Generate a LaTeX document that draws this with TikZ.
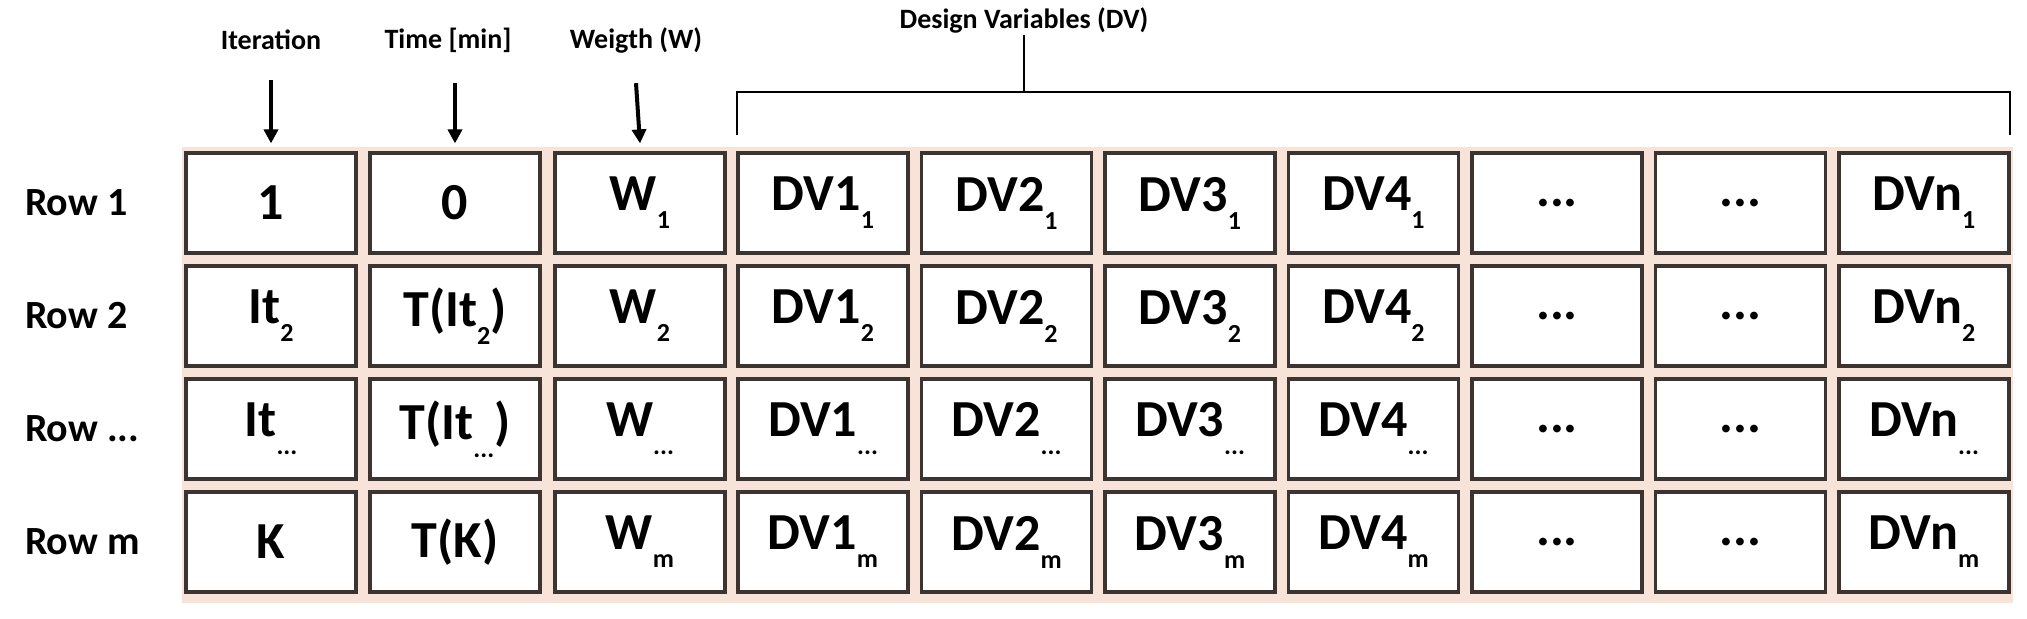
\documentclass[tikz,border=0pt]{standalone}
\usepackage{fontspec}
\setmainfont{Carlito}
\usetikzlibrary{arrows.meta}
\definecolor{peach}{HTML}{F7E3D8}
\definecolor{bord}{HTML}{3B3430}
\newcommand{\mysub}[1]{{\fontsize{13}{13}\selectfont\raisebox{-9pt}{#1}}}
\newcommand{\mydots}{...}
\begin{document}
\begin{tikzpicture}[x=0.5pt,y=-0.5pt,
  cell/.style={draw=bord,line width=1.6pt,fill=white,minimum width=85pt,minimum height=50pt,inner sep=0pt,font=\fontsize{26}{26}\selectfont\bfseries},
  rowlab/.style={anchor=west,font=\fontsize{20}{20}\selectfont\bfseries},
  head/.style={font=\fontsize{14}{14}\selectfont\bfseries,inner sep=1pt},
  arr/.style={line width=2pt,-{Triangle[length=7pt,width=7pt]}}]
\useasboundingbox (0,0) rectangle (2027,618);
\fill[peach] (182,147) rectangle (2013,603);
% rows
\foreach \r/\y in {1/203,2/316,3/429,4/542}{
  \foreach \c/\x in {1/271,2/455,3/640,4/823,5/1006.5,6/1190,7/1373.5,8/1557,9/1740.5,10/1924}{
    \node[cell] (r\r c\c) at (\x,\y) {};
  }
}
\foreach \r/\t in {1/Row 1,2/Row 2,3/Row \mydots,4/Row m}{\node[rowlab] (lab\r) at (18,0 |- r\r c1) {\t};}
% contents
\foreach \r/\s/\a/\b in {1/1/1/0,2/2/It\mysub{2}/T(It\mysub{2}),3/\mydots/It\mysub{\mydots}/T(It\mysub{\mydots}),4/m/K/T(K)}{
  \node[cell,draw=none,fill=none] at (r\r c1) {\a};
  \node[cell,draw=none,fill=none] at (r\r c2) {\b};
  \node[cell,draw=none,fill=none] at (r\r c3) {W\mysub{\s}};
  \node[cell,draw=none,fill=none] at (r\r c4) {DV1\mysub{\s}};
  \node[cell,draw=none,fill=none] at (r\r c5) {DV2\mysub{\s}};
  \node[cell,draw=none,fill=none] at (r\r c6) {DV3\mysub{\s}};
  \node[cell,draw=none,fill=none] at (r\r c7) {DV4\mysub{\s}};
  \node[cell,draw=none,fill=none] at (r\r c8) {\mydots};
  \node[cell,draw=none,fill=none] at (r\r c9) {\mydots};
  \node[cell,draw=none,fill=none] at (r\r c10) {DVn\mysub{\s}};
}
% headers
\node[head] (h1) at (271,40) {Iteration};
\node[head] (h2) at (448,40) {Time [min]};
\node[head] (h3) at (636,40) {Weigth (W)};
\node[head] (h4) at (1024,20) {Design Variables (DV)};
\draw[arr] ([yshift=-14pt]h1.south) -- ([yshift=4pt]r1c1.north);
\draw[arr] ([yshift=-14pt]h2.south -| r1c2) -- ([yshift=4pt]r1c2.north);
\draw[arr] ([yshift=-14pt]h3.south) -- ([yshift=4pt]r1c3.north);
\coordinate (bl) at (737,135);
\coordinate (br) at (2010,135);
\coordinate (bm) at (1024,92);
\draw[line width=1.2pt] (bl) -- (737,92) -- (2010,92) -- (br);
\draw[line width=1.2pt] (bm) -- (h4.south);
\end{tikzpicture}
\end{document}
